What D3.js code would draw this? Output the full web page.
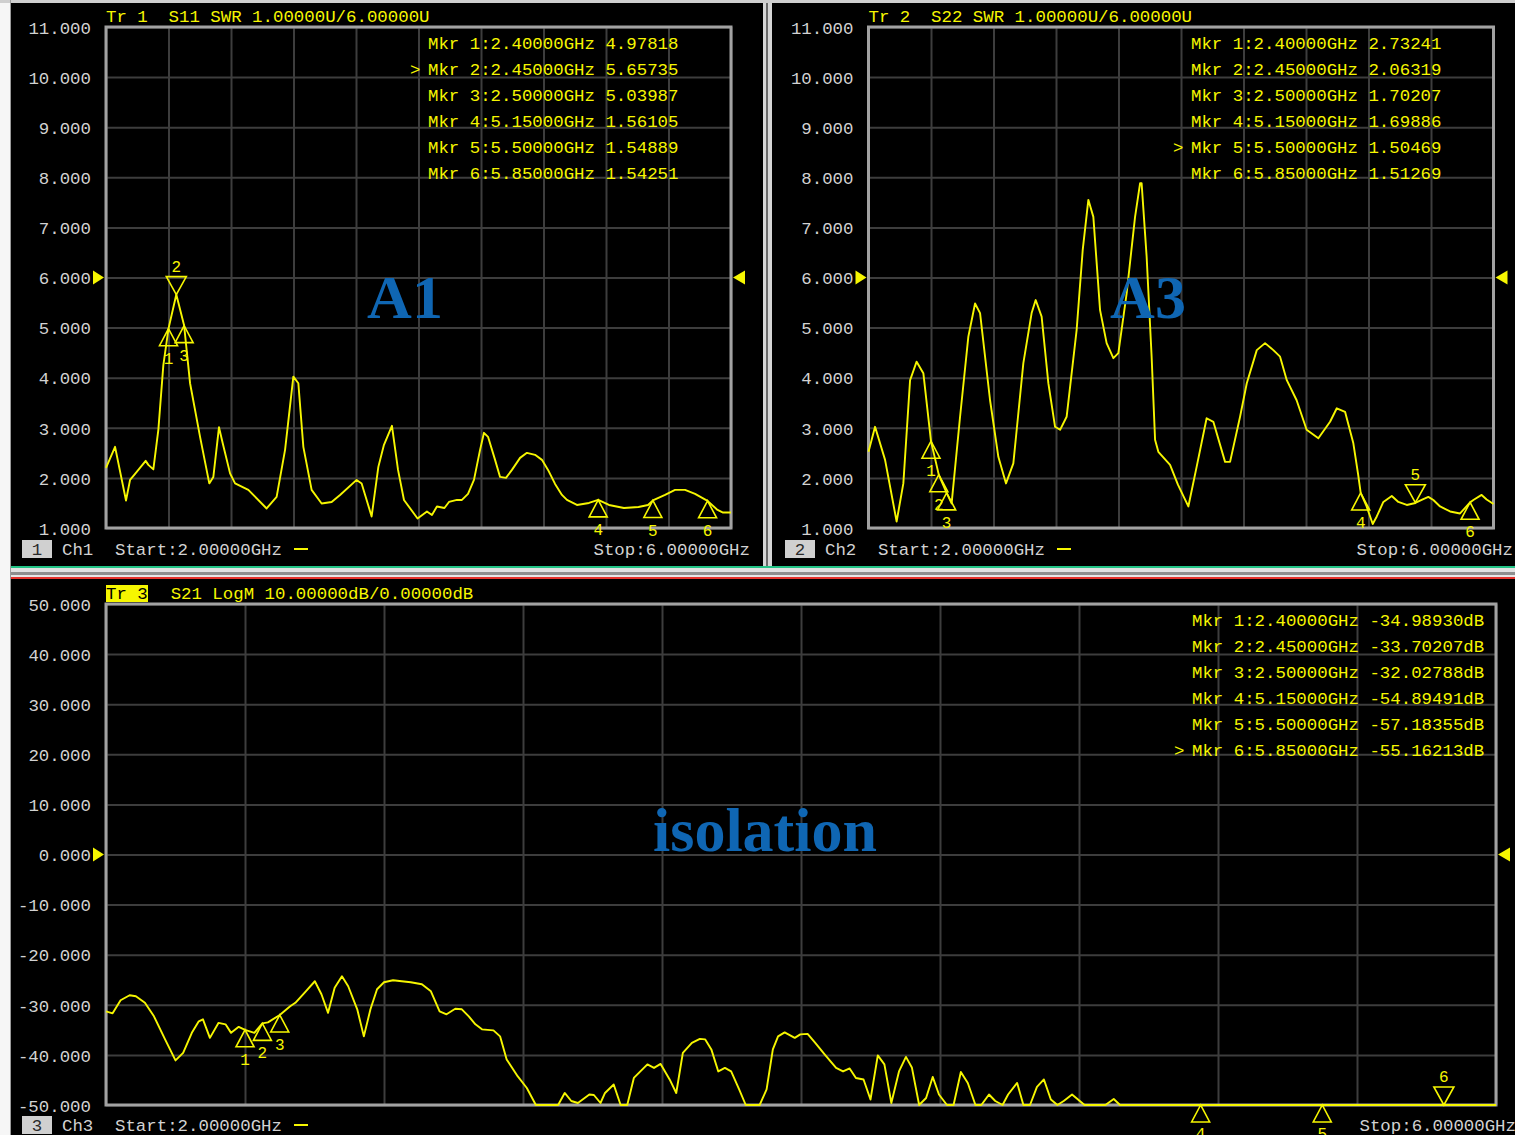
<!DOCTYPE html>
<html><head><meta charset="utf-8">
<script src="https://cdn.jsdelivr.net/npm/d3@7"></script>
<style>html,body{margin:0;padding:0;background:#f4f4f4;overflow:hidden}text{white-space:pre}</style>
</head><body>
<svg id="c" width="1515" height="1135"></svg>
<script>
// ---------- data ----------
const freqTicks = [2.0, 2.4, 2.8, 3.2, 3.6, 4.0, 4.4, 4.8, 5.2, 5.6, 6.0];
const swrTicks = [1, 2, 3, 4, 5, 6, 7, 8, 9, 10, 11];
const dbTicks = [-50, -40, -30, -20, -10, 0, 10, 20, 30, 40, 50];
const markerFreqs = [2.40, 2.45, 2.50, 5.15, 5.50, 5.85];

const s11Freq = [2.00, 2.058, 2.128, 2.154, 2.186, 2.254, 2.271, 2.303, 2.335, 2.367, 2.40, 2.45, 2.50, 2.538, 2.602, 2.661, 2.687, 2.723, 2.747, 2.794, 2.826, 2.911, 3.028, 3.092, 3.146, 3.199, 3.231, 3.263, 3.316, 3.380, 3.444, 3.498, 3.604, 3.636, 3.700, 3.743, 3.779, 3.830, 3.869, 3.907, 3.994, 4.054, 4.086, 4.118, 4.166, 4.195, 4.246, 4.278, 4.317, 4.355, 4.394, 4.419, 4.445, 4.490, 4.522, 4.560, 4.598, 4.650, 4.694, 4.746, 4.790, 4.829, 4.874, 4.918, 4.950, 5.014, 5.091, 5.15, 5.219, 5.315, 5.408, 5.469, 5.50, 5.578, 5.642, 5.706, 5.770, 5.85, 5.914, 5.946, 6.00];
const s11Swr = [2.20, 2.62, 1.55, 1.96, 2.08, 2.34, 2.26, 2.17, 2.96, 4.25, 4.98, 5.66, 5.04, 3.89, 2.82, 1.89, 2.02, 3.01, 2.69, 2.09, 1.89, 1.76, 1.39, 1.62, 2.56, 4.02, 3.89, 2.62, 1.76, 1.49, 1.52, 1.66, 1.96, 1.89, 1.23, 2.22, 2.66, 3.04, 2.16, 1.56, 1.19, 1.33, 1.26, 1.43, 1.40, 1.52, 1.56, 1.56, 1.68, 1.96, 2.56, 2.90, 2.82, 2.36, 2.02, 2.00, 2.16, 2.40, 2.50, 2.46, 2.36, 2.16, 1.88, 1.66, 1.56, 1.46, 1.50, 1.56, 1.46, 1.40, 1.42, 1.46, 1.55, 1.66, 1.76, 1.76, 1.68, 1.54, 1.36, 1.31, 1.31];
const s11MarkerVals = [4.97818, 5.65735, 5.03987, 1.56105, 1.54889, 1.54251];

const s22Freq = [2.00, 2.042, 2.106, 2.180, 2.223, 2.266, 2.308, 2.351, 2.381, 2.40, 2.45, 2.50, 2.532, 2.586, 2.639, 2.682, 2.714, 2.778, 2.831, 2.880, 2.927, 2.991, 3.044, 3.070, 3.108, 3.151, 3.194, 3.226, 3.268, 3.332, 3.371, 3.407, 3.439, 3.482, 3.524, 3.567, 3.599, 3.652, 3.706, 3.738, 3.748, 3.780, 3.812, 3.834, 3.855, 3.930, 3.981, 4.047, 4.100, 4.164, 4.207, 4.282, 4.314, 4.378, 4.421, 4.485, 4.538, 4.591, 4.634, 4.677, 4.740, 4.804, 4.879, 4.954, 4.997, 5.050, 5.103, 5.134, 5.15, 5.188, 5.227, 5.253, 5.295, 5.349, 5.391, 5.445, 5.50, 5.540, 5.583, 5.615, 5.658, 5.722, 5.786, 5.85, 5.871, 5.924, 5.956, 6.00];
const s22Swr = [2.52, 3.02, 2.36, 1.13, 1.89, 3.95, 4.32, 4.09, 3.26, 2.73, 2.06, 1.70, 1.49, 3.22, 4.82, 5.48, 5.29, 3.55, 2.42, 1.89, 2.29, 4.29, 5.29, 5.55, 5.22, 3.89, 3.02, 2.96, 3.22, 4.95, 6.55, 7.55, 7.21, 5.35, 4.69, 4.39, 4.49, 5.68, 7.21, 7.88, 7.88, 6.42, 4.42, 2.76, 2.52, 2.26, 1.86, 1.43, 2.22, 3.19, 3.12, 2.32, 2.32, 3.22, 3.89, 4.55, 4.69, 4.55, 4.42, 3.95, 3.55, 2.96, 2.79, 3.12, 3.39, 3.32, 2.69, 2.06, 1.70, 1.43, 1.08, 1.23, 1.52, 1.64, 1.52, 1.46, 1.50, 1.56, 1.62, 1.56, 1.43, 1.33, 1.29, 1.51, 1.56, 1.66, 1.57, 1.48];
const s22MarkerVals = [2.73241, 2.06319, 1.70207, 1.69886, 1.50469, 1.51269];

const s21Freq = [2.00, 2.019, 2.042, 2.068, 2.086, 2.112, 2.138, 2.170, 2.200, 2.222, 2.247, 2.267, 2.279, 2.299, 2.324, 2.344, 2.360, 2.382, 2.40, 2.427, 2.45, 2.466, 2.50, 2.530, 2.545, 2.575, 2.601, 2.620, 2.639, 2.658, 2.679, 2.697, 2.723, 2.742, 2.761, 2.780, 2.800, 2.826, 2.851, 2.877, 2.909, 2.935, 2.960, 2.980, 3.005, 3.024, 3.044, 3.063, 3.082, 3.115, 3.134, 3.153, 3.185, 3.211, 3.237, 3.301, 3.320, 3.339, 3.358, 3.391, 3.404, 3.423, 3.436, 3.461, 3.481, 3.500, 3.519, 3.558, 3.577, 3.596, 3.622, 3.641, 3.660, 3.686, 3.709, 3.724, 3.742, 3.762, 3.781, 3.799, 3.822, 3.841, 3.881, 3.901, 3.919, 3.934, 3.953, 3.982, 3.998, 4.019, 4.041, 4.068, 4.101, 4.121, 4.140, 4.158, 4.180, 4.200, 4.221, 4.240, 4.260, 4.282, 4.302, 4.319, 4.340, 4.360, 4.379, 4.397, 4.420, 4.439, 4.460, 4.480, 4.502, 4.519, 4.541, 4.559, 4.580, 4.596, 4.622, 4.640, 4.659, 4.679, 4.699, 4.719, 4.738, 4.756, 4.780, 4.816, 4.876, 4.900, 4.918, 5.15, 5.50, 5.85, 6.00];
const s21Db = [-31.3, -31.7, -29.1, -28.1, -28.3, -29.6, -32.3, -36.9, -41.1, -39.6, -35.6, -33.3, -32.9, -36.6, -33.6, -33.9, -35.6, -34.4, -34.99, -35.6, -33.70, -33.5, -32.03, -30.3, -29.6, -27.3, -25.3, -27.9, -31.6, -26.6, -24.3, -26.3, -30.9, -36.3, -30.9, -26.9, -25.5, -25.1, -25.3, -25.5, -25.9, -27.3, -31.3, -31.9, -30.8, -30.9, -32.3, -33.9, -34.9, -35.1, -36.3, -40.9, -44.3, -46.6, -50, -50, -47.6, -49.2, -49.6, -47.9, -48.0, -49.6, -47.6, -45.9, -50, -50, -44.6, -41.9, -42.6, -41.8, -44.9, -47.6, -39.6, -37.6, -36.8, -36.9, -38.9, -43.3, -42.6, -43.3, -46.9, -50, -50, -46.9, -38.9, -36.3, -35.5, -36.6, -35.9, -35.8, -37.6, -39.9, -42.6, -43.3, -42.7, -44.6, -44.9, -48.9, -40.1, -41.9, -49.6, -43.3, -40.4, -42.5, -50, -48.6, -44.4, -47.9, -50, -50, -43.4, -45.6, -50, -50, -47.9, -49.2, -50, -47.9, -45.6, -50, -50, -46.4, -44.9, -48.9, -50, -49.2, -47.9, -50, -50, -48.8, -50, -54.89, -57.18, -55.16, -55.0];
const s21MarkerVals = [-34.98930, -33.70207, -32.02788, -54.89491, -57.18355, -55.16213];

const s11MarkerText = ["4.97818", "5.65735", "5.03987", "1.56105", "1.54889", "1.54251"];
const s22MarkerText = ["2.73241", "2.06319", "1.70207", "1.69886", "1.50469", "1.51269"];
const s21MarkerText = ["-34.98930dB", "-33.70207dB", "-32.02788dB", "-54.89491dB", "-57.18355dB", "-55.16213dB"];
const markerFreqText = ["2.40000GHz", "2.45000GHz", "2.50000GHz", "5.15000GHz", "5.50000GHz", "5.85000GHz"];

// ---------- drawing ----------
const svg = d3.select("#c");
const FONT = "'Liberation Mono','DejaVu Sans Mono',monospace";
const FS = 17.4;
const YEL = "#f6f600", LBL = "#d2d2d2";

// frame / background
svg.append("rect").attr("x", 0).attr("y", 0).attr("width", 1515).attr("height", 1135).attr("fill", "#f6f6f6");
svg.append("rect").attr("x", 0).attr("y", 0).attr("width", 1515).attr("height", 3).attr("fill", "#cfcfcf");
svg.append("rect").attr("x", 10).attr("y", 0).attr("width", 1).attr("height", 1135).attr("fill", "#9a9a9a");
svg.append("rect").attr("x", 11).attr("y", 3).attr("width", 752).attr("height", 563).attr("fill", "#000");
svg.append("rect").attr("x", 772).attr("y", 3).attr("width", 743).attr("height", 563).attr("fill", "#000");
svg.append("rect").attr("x", 763).attr("y", 3).attr("width", 9).attr("height", 565).attr("fill", "#d6d6d6");
svg.append("rect").attr("x", 766).attr("y", 3).attr("width", 2).attr("height", 565).attr("fill", "#6a6a6a");
svg.append("rect").attr("x", 11).attr("y", 566).attr("width", 1504).attr("height", 2).attr("fill", "#22c486");
svg.append("rect").attr("x", 11).attr("y", 568).attr("width", 1504).attr("height", 4).attr("fill", "#e2e2e2");
svg.append("rect").attr("x", 11).attr("y", 572).attr("width", 1504).attr("height", 3).attr("fill", "#8e8e8e");
svg.append("rect").attr("x", 11).attr("y", 575).attr("width", 1504).attr("height", 2).attr("fill", "#e6e6e6");
svg.append("rect").attr("x", 11).attr("y", 577).attr("width", 1504).attr("height", 2).attr("fill", "#e4322c");
svg.append("rect").attr("x", 11).attr("y", 579).attr("width", 1504).attr("height", 556).attr("fill", "#000");

function txt(g, x, y, s, color, anchor) {
  return g.append("text").attr("x", x).attr("y", y).attr("fill", color)
    .attr("font-family", FONT).attr("font-size", FS)
    .attr("text-anchor", anchor || "start").text(s);
}

function panel(cfg) {
  const x = d3.scaleLinear().domain([2, 6]).range([cfg.left, cfg.right]);
  const y = d3.scaleLinear().domain(cfg.yDomain).range([cfg.bottom, cfg.top]);
  const g = svg.append("g");
  const h = cfg.bottom - cfg.top, w = cfg.right - cfg.left;

  // vertical grid
  const gx = g.append("g").attr("transform", `translate(0,${cfg.bottom})`)
    .call(d3.axisBottom(x).tickValues(freqTicks).tickSize(-h).tickFormat(""));
  gx.select(".domain").remove();
  gx.selectAll("line").attr("stroke", "#3d3d3d").attr("stroke-width", 2);

  // horizontal grid + labels
  const gy = g.append("g").attr("transform", `translate(${cfg.left},0)`)
    .call(d3.axisLeft(y).tickValues(cfg.ticks).tickSize(-w).tickPadding(15).tickFormat(d => d.toFixed(3)));
  gy.select(".domain").remove();
  gy.selectAll("line").attr("stroke", "#3d3d3d").attr("stroke-width", 2);
  gy.selectAll("text").attr("fill", LBL).attr("font-family", FONT).attr("font-size", FS).attr("dy", "0.36em");
  gy.attr("font-family", null).attr("font-size", null);

  // frame
  g.append("rect").attr("x", cfg.left).attr("y", cfg.top).attr("width", w).attr("height", h)
    .attr("fill", "none").attr("stroke", "#a2a2a2").attr("stroke-width", 3);

  // reference arrows
  const ry = y(cfg.refVal);
  g.append("path").attr("d", `M${cfg.left - 13},${ry - 7}L${cfg.left - 2},${ry}L${cfg.left - 13},${ry + 7}Z`).attr("fill", YEL);
  g.append("path").attr("d", `M${cfg.right + 14},${ry - 7}L${cfg.right + 2},${ry}L${cfg.right + 14},${ry + 7}Z`).attr("fill", YEL);

  // trace
  const yMin = cfg.yDomain[0];
  const data = cfg.freq.map((f, i) => ({ f, v: cfg.vals[i] }));
  g.append("path").datum(data)
    .attr("d", d3.line().x(d => x(d.f)).y(d => y(Math.max(d.v, yMin))))
    .attr("fill", "none").attr("stroke", YEL).attr("stroke-width", 1.9).attr("stroke-linejoin", "round");

  // markers
  markerFreqs.forEach((f, i) => {
    const px = x(f), py = y(Math.max(cfg.mVals[i], yMin));
    if (i === cfg.active) {
      g.append("path").attr("d", `M${px - 10},${py - 18}L${px + 10},${py - 18}L${px},${py}Z`)
        .attr("fill", "none").attr("stroke", YEL).attr("stroke-width", 1.6);
      txt(g, px, py - 23, String(i + 1), YEL, "middle").attr("font-size", 16);
    } else {
      g.append("path").attr("d", `M${px},${py}L${px - 9},${py + 17}L${px + 9},${py + 17}Z`)
        .attr("fill", "none").attr("stroke", YEL).attr("stroke-width", 1.6);
      // labels below the plot floor are partly cut off by the window edge, as in the reference
      txt(g, px, Math.min(py + 35, 1139), String(i + 1), YEL, "middle").attr("font-size", 16);
    }
  });

  // header
  if (cfg.boxTitle) {
    g.append("rect").attr("x", cfg.left).attr("y", cfg.titleY - 14).attr("width", 42).attr("height", 17).attr("fill", YEL);
    txt(g, cfg.left, cfg.titleY, cfg.title0, "#000");
    txt(g, cfg.left + 2 + 6 * 10.44, cfg.titleY, cfg.title1, YEL);
  } else {
    txt(g, cfg.left, cfg.titleY, cfg.title0 + "  " + cfg.title1, YEL);
  }

  // marker table
  markerFreqText.forEach((s, i) => {
    const by = cfg.tableY + i * 26;
    txt(g, cfg.tableX, by, `Mkr ${i + 1}:${s} ${cfg.mText[i]}`, YEL);
    if (i === cfg.active) txt(g, cfg.tableX - 18, by, ">", YEL);
  });

  // footer
  const fy = cfg.footY;
  g.append("rect").attr("x", cfg.footX).attr("y", fy - 15).attr("width", 30).attr("height", 18).attr("fill", "#d0d0d0");
  txt(g, cfg.footX + 15, fy, cfg.chNum, "#2a2a2a", "middle");
  txt(g, cfg.footX + 40, fy, "Ch" + cfg.chNum, LBL);
  txt(g, cfg.footX + 93, fy, "Start:2.00000GHz", LBL);
  g.append("rect").attr("x", cfg.footX + 272).attr("y", fy - 7).attr("width", 14).attr("height", 2).attr("fill", YEL);
  txt(g, cfg.stopX, fy, "Stop:6.00000GHz", LBL, "end");

  // annotation
  g.append("text").attr("x", cfg.annX).attr("y", cfg.annY).attr("text-anchor", "middle")
    .attr("font-family", "'Liberation Serif','DejaVu Serif',serif").attr("font-weight", "bold")
    .attr("font-size", 62).attr("fill", "#0f66b3").text(cfg.ann);
}

panel({ left: 106, right: 731, top: 27, bottom: 528, yDomain: [1, 11], ticks: swrTicks, refVal: 6,
  freq: s11Freq, vals: s11Swr, mVals: s11MarkerVals, mText: s11MarkerText, active: 1,
  title0: "Tr 1", title1: "S11 SWR 1.00000U/6.00000U", titleY: 22,
  tableX: 428, tableY: 49, footX: 22, footY: 555, chNum: "1", stopX: 750,
  ann: "A1", annX: 405, annY: 318 });

panel({ left: 868.5, right: 1493.5, top: 27, bottom: 528, yDomain: [1, 11], ticks: swrTicks, refVal: 6,
  freq: s22Freq, vals: s22Swr, mVals: s22MarkerVals, mText: s22MarkerText, active: 4,
  title0: "Tr 2", title1: "S22 SWR 1.00000U/6.00000U", titleY: 22,
  tableX: 1191, tableY: 49, footX: 785, footY: 555, chNum: "2", stopX: 1513,
  ann: "A3", annX: 1148, annY: 318 });

panel({ left: 106, right: 1496, top: 604, bottom: 1105, yDomain: [-50, 50], ticks: dbTicks, refVal: 0,
  freq: s21Freq, vals: s21Db, mVals: s21MarkerVals, mText: s21MarkerText, active: 5, boxTitle: true,
  title0: "Tr 3", title1: "S21 LogM 10.00000dB/0.00000dB", titleY: 599,
  tableX: 1192, tableY: 626, footX: 22, footY: 1131, chNum: "3", stopX: 1516,
  ann: "isolation", annX: 765, annY: 851 });
</script>
</body></html>
